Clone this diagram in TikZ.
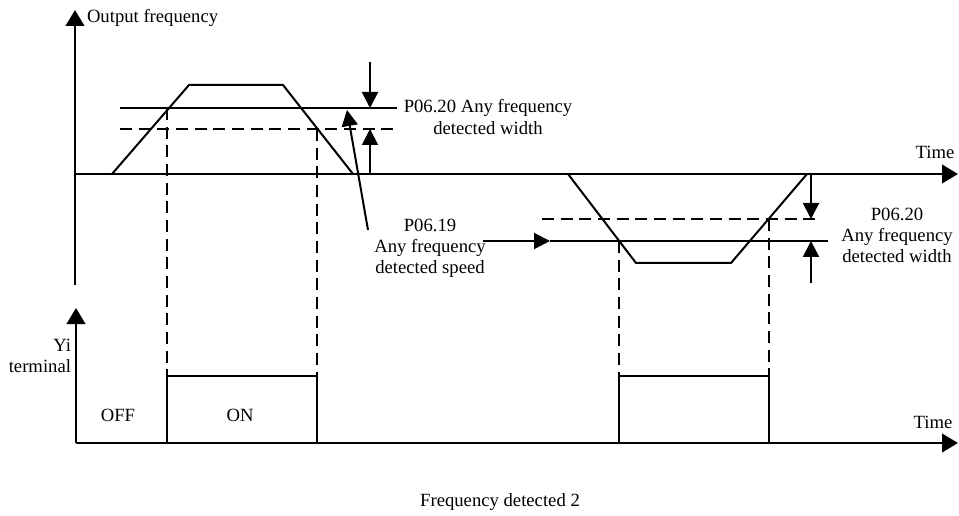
\documentclass[tikz,border=0pt]{standalone}
\usepackage{fontspec}
\setmainfont{Liberation Serif}
\usetikzlibrary{arrows.meta}
\begin{document}
\begin{tikzpicture}[x=0.75pt,y=-0.75pt, line width=1.5pt, line join=miter,
  tri/.style={-{Triangle[length=12pt,width=12pt]}},
  axisarrow/.style={-{Triangle[length=12pt,width=14pt]}},
  dsh/.style={dash pattern=on 9pt off 5pt},
  lbl/.style={font=\fontsize{14}{16}\selectfont, inner sep=0pt, align=center}]
\useasboundingbox (0,0) rectangle (959,516);

% ---------- upper chart ----------
\coordinate (uo) at (75,174);
\coordinate (utop) at (75,10);
\coordinate (ubot) at (75,285);
\coordinate (uend) at (958,174);
\draw[axisarrow] (ubot) -- (utop);
\draw[axisarrow] (uo) -- (uend);
\node[lbl, anchor=west] (ofreq) at (86,18) {Output frequency};
\node[lbl] (time1) at (935,152) {Time};

% trapezoid 1
\coordinate (t1a) at (112,174);
\coordinate (t1b) at (189,85);
\coordinate (t1c) at (283,85);
\coordinate (t1d) at (353,174);
\draw (t1a) -- (t1b) -- (t1c) -- (t1d);

% level lines 1
\coordinate (s1l) at (120,108);
\coordinate (s1r) at (397,108);
\coordinate (d1l) at (120,129);
\coordinate (d1r) at (397,129);
\draw (s1l) -- (s1r);
\draw[dsh] (d1l) -- (d1r);

% width arrows 1
\coordinate (wa1top) at (370,62);
\coordinate (wa1tip) at (370,108);
\coordinate (wa1bot) at (370,174);
\coordinate (wa1tip2) at (370,129);
\draw[tri] (wa1top) -- (wa1tip);
\draw[tri] (wa1bot) -- (wa1tip2);

\node[lbl] (lab1) at (488,117) {P06.20 Any frequency\\detected width};

% pointer arrow
\coordinate (ptail) at (368,230);
\coordinate (ptip) at (347,110);
\draw[tri] (ptail) -- (ptip);
\node[lbl, font=\fontsize{14}{15.75}\selectfont] (lab2) at (430,248) {P06.19\\Any frequency\\detected speed};

% trapezoid 2 (inverted)
\coordinate (t2a) at (568,174);
\coordinate (t2b) at (636,263);
\coordinate (t2c) at (731,263);
\coordinate (t2d) at (807,174);
\draw (t2a) -- (t2b) -- (t2c) -- (t2d);

% level lines 2
\coordinate (d2l) at (542,219);
\coordinate (d2r) at (818,219);
\draw[dsh] (d2l) -- (d2r);
\coordinate (s2l) at (483,241);
\coordinate (s2m) at (550,241);
\coordinate (s2r) at (828,241);
\draw[tri] (s2l) -- (s2m);
\draw (s2m) -- (s2r);

% width arrows 2
\coordinate (wa2top) at (811,174);
\coordinate (wa2tip) at (811,219);
\coordinate (wa2bot) at (811,283);
\coordinate (wa2tip2) at (811,241);
\draw[tri] (wa2top) -- (wa2tip);
\draw[tri] (wa2bot) -- (wa2tip2);

\node[lbl, font=\fontsize{14}{15.75}\selectfont] (lab3) at (897,235) {P06.20\\Any frequency\\detected width};

% ---------- lower chart ----------
\coordinate (lo) at (76,443);
\coordinate (ltop) at (76,308);
\coordinate (lend) at (958,443);
\draw[axisarrow] (lo) -- (ltop);
\draw[axisarrow] (lo) -- (lend);
\node[lbl] (time2) at (933,422) {Time};
\node[lbl, align=right, anchor=east, font=\fontsize{14}{15.75}\selectfont] (yi) at (72,356) {Yi\\terminal};
\node[lbl] (off) at (118,415) {OFF};
\node[lbl] (on) at (240,415) {ON};

% pulses
\coordinate (p1a) at (167,443);
\coordinate (p1b) at (167,376);
\coordinate (p1c) at (317,376);
\coordinate (p1d) at (317,443);
\draw (p1a) -- (p1b) -- (p1c) -- (p1d);
\coordinate (p2a) at (619,443);
\coordinate (p2b) at (619,376);
\coordinate (p2c) at (769,376);
\coordinate (p2d) at (769,443);
\draw (p2a) -- (p2b) -- (p2c) -- (p2d);

% dashed verticals
\coordinate (v1) at (167,108);
\coordinate (v2) at (317,129);
\coordinate (v3) at (619,241);
\coordinate (v4) at (769,219);
\draw[dsh] (v1) -- (p1b);
\draw[dsh] (v2) -- (p1c);
\draw[dsh] (v3) -- (p2b);
\draw[dsh] (v4) -- (p2c);

\node[lbl] (cap) at (500,502) {Frequency detected 2};
\end{tikzpicture}
\end{document}
